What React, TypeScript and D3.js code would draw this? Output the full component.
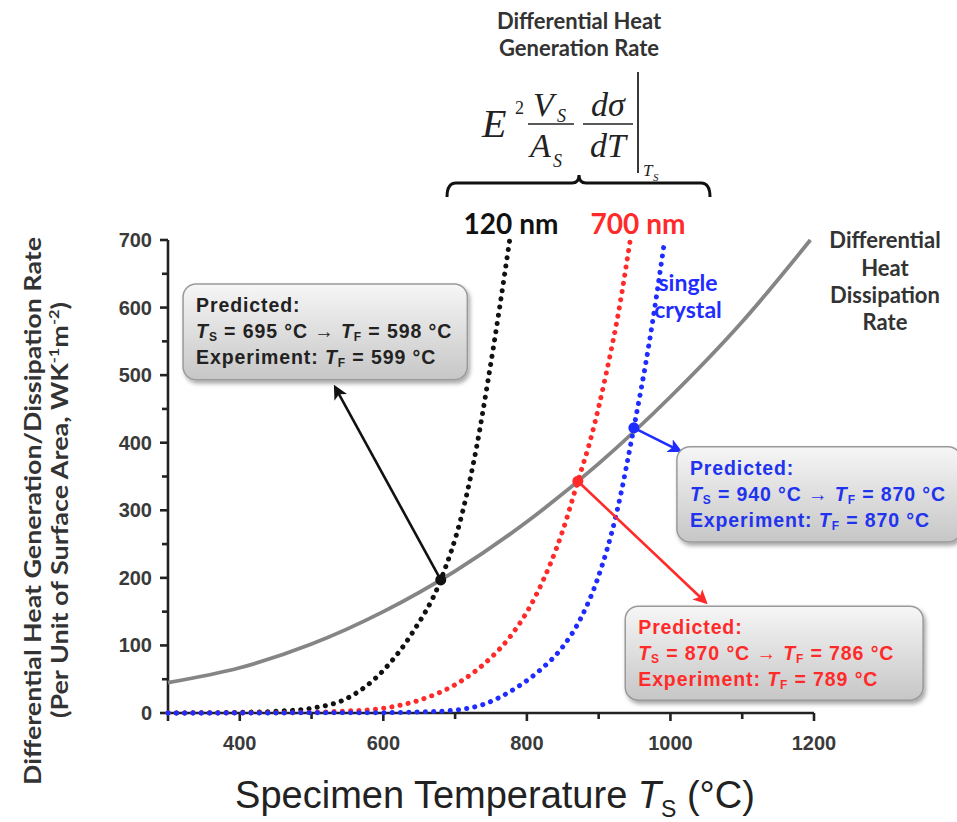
import React from "react";
import * as d3 from "d3";

// ---- data ----
const xTicksMajor = [400, 600, 800, 1000, 1200];
const xTicksMinor = [500, 700, 900, 1100];
const yTicksMajor = [0, 100, 200, 300, 400, 500, 600, 700];
const yTicksMinor = [50, 150, 250, 350, 450, 550, 650];

const dissT = [300, 400, 500, 600, 700, 800, 900, 1000, 1100, 1195];
const dissV = [45, 67, 102, 150, 210, 283, 369, 468, 579, 700];

const nm120T = [300, 400, 450, 500, 550, 600, 640, 680, 710, 730, 746, 762, 776];
const nm120V = [0, 1, 2.5, 7, 22, 63, 118, 197, 296, 394, 493, 600, 700];

const nm700T = [300, 450, 500, 550, 600, 650, 711, 750, 776, 814, 850, 871, 890, 910, 928, 944];
const nm700V = [0, 0.3, 1, 3, 7, 19, 49, 82, 112, 177, 270, 343, 410, 500, 595, 700];

const scT = [300, 600, 650, 697, 740, 786, 820, 850, 875, 898, 925, 949, 970, 992];
const scV = [0, 0.5, 1.5, 4, 13, 38, 65, 98, 140, 197, 296, 422, 545, 700];

// intersection points [T, value] and arrow targets [T, value]
const crossBlack = [680, 197];
const crossRed = [871, 343];
const crossBlue = [949, 422];
const arrowBlackEnd = [533, 482];
const arrowRedEnd = [1049, 164];
const arrowBlueEnd = [1013, 388];

// annotation boxes in data units: [T0, T1, vTop, vBottom]
const boxBlack = [321, 717, 635, 493];
const boxBlue = [1009, 1405, 394, 253];
const boxRed = [937, 1352, 158, 19];

const zip = (a: number[], b: number[]) => a.map((t, i) => [t, b[i]] as [number, number]);

export default function App() {
  const W = 957, H = 822;
  const x = d3.scaleLinear().domain([300, 1200]).range([168, 814]);
  const y = d3.scaleLinear().domain([0, 700]).range([713, 240]);
  const line = d3
    .line<[number, number]>()
    .x((d) => x(d[0]))
    .y((d) => y(d[1]))
    .curve(d3.curveMonotoneX);

  const axisColor = "#222";
  const sans = "'Liberation Sans', Arial, sans-serif";
  const cal = "Lato, 'Open Sans', sans-serif";
  const serif = "'Liberation Serif', 'Times New Roman', serif";

  const dotted = (d: [number, number][], color: string) => (
    <path d={line(d) || ""} fill="none" stroke={color} strokeWidth={5} strokeDasharray="0.1 8.2" strokeLinecap="round" />
  );

  const box = (b: number[], id: string) => {
    const x0 = x(b[0]), x1 = x(b[1]), y0 = y(b[2]), y1 = y(b[3]);
    return (
      <rect key={id} x={x0} y={y0} width={x1 - x0} height={y1 - y0} rx={13} ry={13}
        fill="url(#boxGrad)" stroke="#9a9a9a" strokeWidth={1.5} filter="url(#shadow)" />
    );
  };

  const boxText = (b: number[], color: string, ts: string, tp: string, te: string) => {
    const x0 = x(b[0]) + 13;
    const yt = y(b[2]);
    const fs = 19.5;
    const sub = 12;
    return (
      <g fill={color} fontFamily={sans} fontWeight="bold" fontSize={fs} letterSpacing={0.9}>
        <text x={x0} y={yt + 28}>Predicted:</text>
        <text x={x0} y={yt + 54}>
          <tspan fontStyle="italic">T</tspan>
          <tspan fontSize={sub} dy={3}>S</tspan>
          <tspan dy={-3}>{` = ${ts} °C \u2192 `}</tspan>
          <tspan fontStyle="italic">T</tspan>
          <tspan fontSize={sub} dy={3}>F</tspan>
          <tspan dy={-3}>{` = ${tp} °C`}</tspan>
        </text>
        <text x={x0} y={yt + 80}>
          <tspan>Experiment: </tspan>
          <tspan fontStyle="italic">T</tspan>
          <tspan fontSize={sub} dy={3}>F</tspan>
          <tspan dy={-3}>{` = ${te} °C`}</tspan>
        </text>
      </g>
    );
  };

  const arrow = (from: number[], to: number[], color: string, id: string) => (
    <line x1={x(from[0])} y1={y(from[1])} x2={x(to[0])} y2={y(to[1])} stroke={color} strokeWidth={2.6} markerEnd={`url(#${id})`} />
  );

  return (
    <svg width={W} height={H} style={{ position: "absolute", left: 0, top: 0, background: "#fff" }}>
      <defs>
        <linearGradient id="boxGrad" x1="0" y1="0" x2="0" y2="1">
          <stop offset="0" stopColor="#f6f6f6" />
          <stop offset="1" stopColor="#c6c6c6" />
        </linearGradient>
        <filter id="shadow" x="-10%" y="-10%" width="130%" height="140%">
          <feDropShadow dx="2" dy="3" stdDeviation="2" floodColor="#000" floodOpacity="0.35" />
        </filter>
        {[["mk", "#111"], ["mr", "#ff2a2a"], ["mb", "#1f2cff"]].map(([id, c]) => (
          <marker key={id} id={id} viewBox="0 0 10 10" refX="8" refY="5" markerWidth="5.5" markerHeight="5.5" orient="auto" markerUnits="strokeWidth">
            <path d="M0,0 L10,5 L0,10 L2.5,5 z" fill={c} />
          </marker>
        ))}
      </defs>

      {/* axes */}
      <g stroke={axisColor} strokeWidth={2.6} fill="none">
        <line x1={x(300)} y1={y(0)} x2={x(1200)} y2={y(0)} />
        <line x1={x(300)} y1={y(0) + 8} x2={x(300)} y2={y(700)} />
        {xTicksMajor.map((t) => <line key={t} x1={x(t)} x2={x(t)} y1={y(0)} y2={y(0) + 8} />)}
        {xTicksMinor.map((t) => <line key={t} x1={x(t)} x2={x(t)} y1={y(0)} y2={y(0) + 6} />)}
        {yTicksMajor.map((t) => <line key={t} x1={x(300) - 8} x2={x(300)} y1={y(t)} y2={y(t)} />)}
        {yTicksMinor.map((t) => <line key={t} x1={x(300) - 6} x2={x(300)} y1={y(t)} y2={y(t)} />)}
      </g>
      <g fontFamily={sans} fontSize={20} fill="#3a3a3a" fontWeight="bold">
        {xTicksMajor.map((t) => (
          <text key={t} x={x(t)} y={y(0) + 37} textAnchor="middle">{t}</text>
        ))}
        {yTicksMajor.map((t) => (
          <text key={t} x={x(300) - 16} y={y(t) + 7} textAnchor="end">{t}</text>
        ))}
      </g>

      {/* axis titles */}
      <text x={495} y={808} textAnchor="middle" fontFamily={sans} fontSize={38} fill="#222">
        <tspan>Specimen Temperature </tspan>
        <tspan fontStyle="italic">T</tspan>
        <tspan fontSize={23} dy={9}>S</tspan>
        <tspan dy={-9}> (°C)</tspan>
      </text>
      <g fontFamily={cal} fontWeight="bold" fill="#333" fontSize={23}>
        <text transform="translate(41,511) rotate(-90)" textAnchor="middle" textLength={548} lengthAdjust="spacingAndGlyphs">
          Differential Heat Generation/Dissipation Rate
        </text>
        <text transform="translate(68,510) rotate(-90)" textAnchor="middle" textLength={416} lengthAdjust="spacingAndGlyphs">
          <tspan>(Per Unit of Surface Area, WK</tspan>
          <tspan fontSize={14} dy={-9}>-1</tspan>
          <tspan dy={9}>m</tspan>
          <tspan fontSize={14} dy={-9}>-2</tspan>
          <tspan dy={9}>)</tspan>
        </text>
      </g>

      {/* curves */}
      <path d={line(zip(dissT, dissV)) || ""} fill="none" stroke="#858585" strokeWidth={3.8} />
      {dotted(zip(nm120T, nm120V), "#111")}
      {dotted(zip(nm700T, nm700V), "#ff2a2a")}
      {dotted(zip(scT, scV), "#1f2cff")}

      {/* arrows */}
      {arrow(crossBlack, arrowBlackEnd, "#111", "mk")}
      {arrow(crossRed, arrowRedEnd, "#ff2a2a", "mr")}
      {arrow(crossBlue, arrowBlueEnd, "#1f2cff", "mb")}
      <circle cx={x(crossBlack[0])} cy={y(crossBlack[1])} r={5.5} fill="#111" />
      <circle cx={x(crossRed[0])} cy={y(crossRed[1])} r={5.5} fill="#ff2a2a" />
      <circle cx={x(crossBlue[0])} cy={y(crossBlue[1])} r={5.5} fill="#1f2cff" />

      {/* boxes */}
      {box(boxBlack, "bk")}
      {box(boxBlue, "bb")}
      {box(boxRed, "br")}
      {boxText(boxBlack, "#222", "695", "598", "599")}
      {boxText(boxBlue, "#2233ee", "940", "870", "870")}
      {boxText(boxRed, "#ff2a2a", "870", "786", "789")}

      {/* curve labels */}
      <g fontFamily={cal} fontWeight="bold" fontSize={28} textAnchor="middle">
        <text x={511} y={234} fill="#111">120 nm</text>
        <text x={638} y={234} fill="#ff2a2a">700 nm</text>
        <text x={688} y={291} fill="#1f2cff" fontSize={23}>single</text>
        <text x={688} y={318} fill="#1f2cff" fontSize={23}>crystal</text>
      </g>
      <g fontFamily={cal} fontWeight="bold" fontSize={22} textAnchor="middle" fill="#333">
        <text x={885} y={248}>Differential</text>
        <text x={885} y={276}>Heat</text>
        <text x={885} y={303}>Dissipation</text>
        <text x={885} y={330}>Rate</text>
      </g>

      {/* top annotation */}
      <g fontFamily={cal} fontWeight="bold" fontSize={22} textAnchor="middle" fill="#333">
        <text x={579} y={29}>Differential Heat</text>
        <text x={579} y={56}>Generation Rate</text>
      </g>
      <g fontFamily={serif} fontStyle="italic" fill="#222">
        <text x={482} y={137} fontSize={40}>E</text>
        <text x={515} y={114} fontSize={18} fontStyle="normal">2</text>
        <line x1={528} x2={574} y1={124} y2={124} stroke="#222" strokeWidth={1.6} />
        <text x={533} y={116} fontSize={34}>V</text>
        <text x={557} y={122} fontSize={18}>S</text>
        <text x={530} y={157} fontSize={34}>A</text>
        <text x={553} y={167} fontSize={18}>S</text>
        <line x1={583} x2={633} y1={124} y2={124} stroke="#222" strokeWidth={1.6} />
        <text x={608} y={116} fontSize={34} textAnchor="middle">dσ</text>
        <text x={608} y={157} fontSize={34} textAnchor="middle">dT</text>
        <line x1={638} x2={638} y1={72} y2={173} stroke="#222" strokeWidth={1.8} />
        <text x={643} y={176} fontSize={17}>T</text>
        <text x={653} y={181} fontSize={11}>S</text>
      </g>
      <path d="M447,197 Q447,183 456,183 L572,183 Q579,183 579,175 Q579,183 586,183 L701,183 Q710,183 710,197"
        fill="none" stroke="#111" strokeWidth={3} />
    </svg>
  );
}
